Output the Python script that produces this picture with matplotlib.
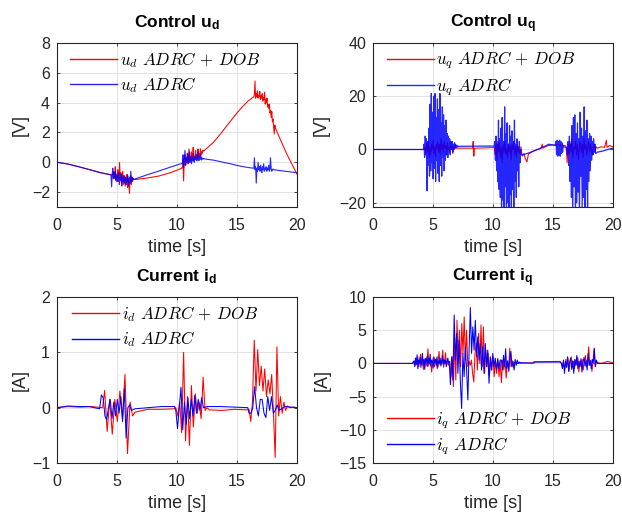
import numpy as np
import matplotlib
matplotlib.use("Agg")
import matplotlib.pyplot as plt
from matplotlib.font_manager import FontProperties

plt.rcParams['font.family'] = ['Liberation Sans', 'DejaVu Sans']
plt.rcParams['mathtext.fontset'] = 'custom'
plt.rcParams['mathtext.rm'] = 'Liberation Sans:bold'
plt.rcParams['mathtext.it'] = 'Liberation Sans:bold'
plt.rcParams['mathtext.bf'] = 'Liberation Sans:bold'

# Each series is a list of segments (t_start, t_end, samples); samples are
# evenly spaced over their segment.
ud_dob = [
    (0.0, 4.6, [0.0, -0.12, -0.3, -0.5, -0.7, -0.85]),
    (4.65, 6.4, [-0.8, -0.6, -1.1, -0.9, -0.3, -1.2, -0.8, -1.0, -0.5, -1.3, -0.9, 0.0,
                 -1.1, -0.7, -1.4, -1.0, -0.6, -1.5, -1.2, -0.9, -1.6, -1.0, -1.3, -0.8,
                 -1.7, -1.1, -1.4, -2.1, -1.2, -0.9, -1.5, -1.0, -1.3, -1.1, -1.15]),
    (6.6, 10.4, [-1.15, -1.05, -0.92, -0.7, -0.4]),
    (10.45, 12.2, [-0.3, 0.2, -1.25, 0.1, 0.5, -0.2, 0.3, 0.0, 0.6, -0.1, 0.4, 0.9, 0.0,
                   0.3, 0.1, 0.7, 0.2, 0.5, 1.0, 0.1, 0.4, 0.2, 0.8, 0.3, 0.5, 0.2, 0.9,
                   0.4, 0.6, 0.3, 0.9, 0.5, 0.7, 0.6, 0.8, 0.75]),
    (12.5, 16.4, [0.95, 1.3, 1.75, 2.25, 2.75, 3.25, 3.7, 4.1, 4.4]),
    (16.45, 18.25, [4.5, 5.45, 4.3, 4.6, 4.4, 4.8, 4.3, 4.5, 4.4, 4.75, 4.2, 4.45, 4.3,
                    4.6, 4.1, 4.35, 4.2, 4.7, 3.9, 4.2, 4.0, 4.3, 3.7, 3.9, 3.6, 3.9, 3.3,
                    3.5, 3.0, 3.4, 2.7, 2.9, 2.4, 1.9, 2.5, 2.3, 2.2]),
    (18.3, 20.0, [2.1, 0.55, -0.8]),
]
ud_adrc = [
    (0.0, 4.5, [0.0, -0.12, -0.3, -0.5, -0.7, -0.85]),
    (4.55, 6.4, [-1.65, -0.8, -0.4, -1.1, -0.7, -1.0, -0.6, -1.2, -0.9, -1.3, -0.8, -1.1,
                 -0.7, -1.5, -1.0, -1.2, -0.8, -1.6, -1.0, -1.3, -0.9, -1.2, -1.4, -1.0,
                 -1.5, -1.1, -1.3, -0.9, -1.6, -1.2, -1.0, -1.4, -0.6, -1.3, -1.0, -1.2,
                 -1.1, -1.15]),
    (6.5, 10.4, [-1.12, -0.85, -0.6, -0.33, -0.08]),
    (10.45, 12.2, [-0.1, 0.5, -0.4, 0.2, 0.8, -0.2, 0.3, 0.0, 0.6, -0.1, 0.2, 0.7, 0.0,
                   0.4, -0.1, 0.3, 0.1, 0.6, 0.0, 0.3, 0.2, 0.5, 0.1, 0.3, 0.7, 0.1, 0.4,
                   0.2, 0.5, 0.15, 0.3, 0.2, 0.25]),
    (12.5, 16.4, [0.2, 0.15, 0.07, -0.02, -0.1, -0.2, -0.28, -0.35, -0.4]),
    (16.45, 18.1, [0.3, -0.5, -0.3, -1.4, -0.4, -0.6, 0.0, -0.5, -0.3, -0.6, -0.2, -0.5,
                   -0.7, -0.3, -0.5, -0.1, -0.6, -0.4, -0.5, -0.3, -0.6, -0.4, -0.5, -0.2,
                   -0.6, -0.5, 0.3, -0.4, -0.6, -0.5, -0.45, -0.5, -0.5]),
    (18.5, 20.0, [-0.55, -0.6, -0.65, -0.7]),
]

uq_dob = [
    (0.0, 4.3, [0.0, 0.0]),
    (4.35, 7.05, [1, -2, 2.5, -1, 3, -3, 1, -2, 2, 0, 3.5, -1.5, 1, -2.5, 2, 0.5, 3, -1,
                  2, -2, 4, 0, 2, -1, 3, 0.5, 1.5, -2, 2.5, 0, 1, -1, 3, 0.5, 1.5, -1.5,
                  1, 0.5, 2, 0.3, 0.8, 0.5]),
    (7.1, 8.3, [0.5, 0.5]),
    (8.35, 8.45, [3.0, -2.5, 0.5]),
    (8.5, 10.0, [0.5, 0.7]),
    (10.1, 12.4, [1, -2, 2, -4, 3, -1, 2.5, -3, 1, -5, 2, -1, 3, -2, 0.5, -3, 2, -1, 1.5,
                  -4, 2, 0, 3, -2, 1, -3, 2, -1, 0.5, -2, 1, -1.5]),
    (12.45, 12.95, [-2.5, -1.5, -3.5, -4.7, -1.8]),
    (13.2, 14.0, [-1.0, -0.2, 0.4]),
    (14.1, 14.15, [2.0, 0.5]),
    (14.6, 16.0, [1.5, 1.8, 1.5]),
    (16.1, 18.6, [1, -5, 2, -2, 3, -1, 4, -3, 1, 0, 3, -2, 2, -4, 1, 3, -1, 2, -3, 4, 0,
                  2, -2, 1, 3, -1, 2, 0, -2, 1, 2, -1, 1]),
    (18.7, 19.3, [0.5, 1.0, 0.8]),
    (19.45, 19.5, [3.5, 0.8]),
    (19.7, 20.0, [1.5, 1.0]),
]
uq_adrc = [
    (0.0, 4.2, [0.0, 0.0]),
    (4.25, 7.05, [2, -3, 5, -2, 4, -15.5, 3, -6, 8, -10, 17, -8, 21, -5, 14, -11, 20, -7,
                  21, -12, 12, -4, 19, -9, 15, -12, 21, -6, 10, -10, 16, -3, 13, -8, 9,
                  -4, 11, -2, 6, -3, 5, -1, 4, -2, 3, 0, 3, -1, 2, 0, 2.5, 0.5, 1.8, 1,
                  1.5, 1.2]),
    (7.1, 10.1, [1.2, 1.3]),
    (10.15, 12.35, [3, -4, 5, -8, 2, -12, 11, -15, 4, -18, 8, -24, 12, -19, 3, -24, 16,
                    -14, 6, -24, 10, -20, 2, -24, 9, -17, 5, -24, 7, -15, 3, -24, 11,
                    -12, 2, -18, 4, -8, 1, -14, 3, -5, 0, -2]),
    (12.5, 15.2, [-2.0, -1.2, -0.2, 0.8, 2.0, 1.5]),
    (15.25, 15.85, [3, -2, 3.5, -2.5, 3, -2, 3.5, -2.5, 3, -1.5, 2.5, -1, 1.5]),
    (15.9, 16.1, [1.0, 0.8]),
    (16.2, 18.55, [-2, 3, -6, 5, -12, 2, -18, 9, -24, 12, -14, 13, -24, 6, -20, 10, -16,
                   4, -24, 14, -10, 8, -22, 5, -18, 16, -24, 7, -15, 11, -24, 4, -12, 6,
                   -8, 5, -4, 3, -2, 4, -1, 2, -1.5]),
    (18.7, 20.0, [-1.0, -0.6, 0.0, 0.5]),
]

id_dob = [
    (0.0, 3.8, [0.0, 0.02, 0.01, 0.02, 0.0]),
    (3.97, 6.3, [0.31, -0.43, 0.15, -0.48, 0.15, -0.25, 0.3, -0.2, 0.6, -0.83, 0.1,
                 -0.15]),
    (6.5, 9.8, [-0.08, -0.03, -0.03, -0.02]),
    (9.9, 12.5, [0.0, -0.15, 0.1, -0.45, 1.0, -0.6, 0.2, -0.68, 0.4, -0.35, 0.25, -0.1,
                 0.1, -0.2, 0.55, -0.05, 0.0]),
    (12.7, 15.8, [-0.04, -0.05, -0.03, -0.04]),
    (16.0, 19.2, [-0.03, -0.25, 0.1, 1.22, 0.3, 1.05, 0.4, 0.75, 0.3, 0.7, 0.2, 0.5,
                  0.25, 0.6, -0.1, -0.9, 1.1, -0.15, 0.2, -0.1, 0.1, -0.05, 0.03]),
    (19.4, 20.0, [0.0, 0.01, 0.0]),
]
id_adrc = [
    (0.0, 3.55, [0.0, 0.03, 0.02, 0.02, -0.02]),
    (3.7, 6.2, [0.23, 0.18, -0.15, -0.22, 0.0, 0.15, -0.2, 0.1, -0.15, 0.15, -0.1, 0.2,
                -0.25, 0.35, -0.55, 0.0, 0.05, -0.05]),
    (6.5, 9.8, [-0.02, 0.0, 0.02, 0.02]),
    (9.9, 12.2, [-0.05, -0.38, 0.0, 0.37, -0.4, 0.1, -0.3, 0.18, -0.2, 0.15, -0.15, 0.22,
                 -0.1, 0.15, -0.05, 0.18, 0.0]),
    (12.5, 15.9, [0.02, 0.02, 0.01, 0.0]),
    (16.0, 18.5, [-0.1, -0.1, 0.0, 0.38, 0.0, -0.15, 0.15, 0.15, -0.1, -0.18, 0.2, -0.05,
                  0.2, -0.1, -0.05, 0.05, -0.05]),
    (19.0, 20.0, [0.02, 0.0]),
]

iq_dob = [
    (0.0, 3.3, [0.0, 0.0]),
    (3.35, 6.35, [0.2, 0.4, -0.3, 0.6, 0.0, 1.0, -0.5, 0.3, 1.4, -0.2, 0.5, -0.9, 0.2,
                  0.8, -0.4, 0.3, 2.2, -0.3, 0.6, 0.0, -1.3, 0.4, 1.0, -0.5, 0.2, 0.7,
                  -0.8, 0.3, 1.8, -0.2, 0.5, 0.0, 2.0, -0.6, 0.4, 1.6, 0.0, 0.3, -0.3,
                  0.2]),
    (6.4, 11.8, [0.3, -2.0, 1.0, -3.5, 4.0, -2.5, 6.5, 0.5, 5.0, -0.5, 6.0, 1.5, 7.0, 0.5,
                 5.0, -0.5, 0.3, -0.3, 0.5, -1.5, -2.8, 1.5, 3.0, -1.0, 4.5, 0.0, 5.8,
                 -0.5, 5.5, -1.5, 2.0, -0.5, 1.5, -1.8, 0.8, -1.0, 1.0, -2.0, 0.5, -1.5,
                 0.8, -2.0, 0.3, -2.9, 0.5, -1.0, 0.6, -2.2, 0.3, -0.8, 2.3, -0.5, 0.4,
                 -0.6, 0.2]),
    (12.0, 13.3, [0.0, 0.05, 0.05]),
    (13.4, 15.6, [0.25, 0.3]),
    (15.7, 18.7, [0.0, -0.5, 0.3, -1.0, 0.6, -0.3, 0.8, -1.2, 0.2, 1.0, -0.6, 0.3, -0.8,
                  0.5, -0.2, 0.9, -1.3, 0.4, -0.4, 0.6, -1.0, 0.3, 1.2, -0.5, 0.2, 2.5,
                  -0.3, 0.5, -1.2, 0.4, 2.3, -0.4, 0.3, 0.1]),
    (19.0, 20.0, [0.0, 0.1, 0.3, 0.2, 0.1]),
]
iq_adrc = [
    (0.0, 3.3, [0.0, 0.0]),
    (3.35, 6.3, [0.2, 0.3, -0.5, 0.8, -0.2, 1.3, -0.8, 0.5, 0.0, 0.9, -0.6, 0.4, 1.5,
                 -0.3, 0.6, -0.9, 0.7, 0.2, 1.0, -0.5, 0.8, 0.0, 1.4, -0.4, 0.5, 0.2,
                 -0.7, 0.9, 0.1, 0.6, -0.3, 1.0, -0.6, 0.4, 0.0, 0.8, -0.4, 0.3, 1.2,
                 -0.2, 0.6, 0.0, 0.5, -0.5, 0.3, 0.8, 0.1]),
    (6.35, 10.6, [0.3, -3.2, 1.0, -2.5, 7.3, 0.5, 4.5, -1.5, 3.5, -3.0, -6.8, 1.5, -2.0,
                  2.5, -1.0, -5.5, 2.0, 8.4, 1.5, 5.5, 2.0, 6.5, 1.0, 4.0, 0.5, 3.0,
                  -1.0, 2.5, -1.5, 3.0, -0.5, 2.0, -3.0, 1.0, -1.0, 1.5, -0.5, 0.8,
                  -1.0, 0.6, -0.8, 0.5]),
    (10.7, 12.2, [0.5, -1.0, 1.2, -0.5, 2.2, -0.8, 0.4, -1.2, 0.8, 1.8, -0.5, 0.3, -1.0,
                  0.6, -0.3, 0.5, 0.0, 0.2]),
    (12.3, 13.4, [0.1, 0.05]),
    (13.5, 15.6, [0.2, 0.2]),
    (15.7, 18.7, [0.0, -0.8, 0.5, -1.5, 0.3, -0.6, 1.0, -1.2, 0.2, 0.8, -0.9, 0.4, -1.5,
                  0.6, -0.3, 1.2, -0.8, 0.3, -0.5, 0.7, -1.3, 0.2, 0.9, -0.4, 0.5, -1.0,
                  1.5, -0.3, 0.4, -0.8, 0.6, 0.0, 2.2, -0.5, 0.5, 0.0]),
    (18.8, 20.0, [0.0, 0.0]),
]

titles = [r'Control $\mathbf{u_d}$', r'Control $\mathbf{u_q}$',
          r'Current $\mathbf{i_d}$', r'Current $\mathbf{i_q}$']
ylabels = ['[V]', '[V]', '[A]', '[A]']
labels = [(r'$u_d\ ADRC\,+\,DOB$', r'$u_d\ ADRC$'),
          (r'$u_q\ ADRC\,+\,DOB$', r'$u_q\ ADRC$'),
          (r'$i_d\ ADRC\,+\,DOB$', r'$i_d\ ADRC$'),
          (r'$i_q\ ADRC\,+\,DOB$', r'$i_q\ ADRC$')]
ylims = [(-3, 8), (-21.6, 40), (-1, 2), (-15, 10)]
yticks = [[-2, 0, 2, 4, 6, 8], [-20, 0, 20, 40], [-1, 0, 1, 2],
          [-15, -10, -5, 0, 5, 10]]
xticks = [0, 5, 10, 15, 20]


def build(segments):
    ts, vs = [], []
    for t0, t1, vals in segments:
        ts.append(np.linspace(t0, t1, len(vals)))
        vs.append(np.asarray(vals, dtype=float))
    return np.concatenate(ts), np.concatenate(vs)


W, H = 622, 515
fig = plt.figure(figsize=(W / 100, H / 100), dpi=100)
boxes = [(57, 43, 240, 164), (373, 43, 240, 164),
         (57, 297, 240, 166), (373, 297, 240, 166)]
series = [(ud_dob, ud_adrc), (uq_dob, uq_adrc), (id_dob, id_adrc), (iq_dob, iq_adrc)]
leg_anchor = [(0.054, 0.955), (0.058, 0.955), (0.063, 0.955), (0.058, 0.32)]
ylabel_x = [-0.117, -0.179, -0.117, -0.175]
blue_alpha = [0.85, 0.85, 1.0, 1.0]
blue_width = [0.8, 0.9, 0.75, 0.75]

axc = '#262626'
for k in range(4):
    x, y, w, h = boxes[k]
    ax = fig.add_axes([x / W, 1 - (y + h) / H, w / W, h / H])
    t1, v1 = build(series[k][0])
    t2, v2 = build(series[k][1])
    ax.plot(t1, v1, color=(1, 0, 0), lw=0.75, label=labels[k][0])
    ax.plot(t2, v2, color=(0, 0, 1), lw=blue_width[k], alpha=blue_alpha[k],
            label=labels[k][1])
    ax.set_xlim(0, 20)
    ax.set_ylim(*ylims[k])
    ax.set_xticks(xticks)
    ax.set_yticks(yticks[k])
    ax.grid(True, color='#e3e3e3', lw=0.7)
    ax.set_axisbelow(True)
    for s in ax.spines.values():
        s.set_color(axc)
        s.set_linewidth(0.8)
    ax.tick_params(direction='in', length=2.5, width=0.6, colors=axc,
                   labelsize=11.5, top=True, right=True)
    ax.tick_params(axis='x', pad=8)
    ax.tick_params(axis='y', pad=5)
    ax.set_xlabel('time [s]', fontsize=13, color=axc, labelpad=4)
    ax.set_ylabel(ylabels[k], fontsize=13, color=axc)
    ax.yaxis.set_label_coords(ylabel_x[k], 0.5)
    ax.set_title(titles[k], fontsize=12.5, fontweight='bold', pad=11)
    prop = FontProperties(size=12.3, math_fontfamily='cm')
    leg = ax.legend(loc='upper left', bbox_to_anchor=leg_anchor[k], frameon=False,
                    prop=prop, borderpad=0, borderaxespad=0, handlelength=2.75,
                    handletextpad=0.15, labelspacing=0.3)
    for ln in leg.get_lines():
        ln.set_linewidth(1.0)

fig.savefig('out.png', dpi=100)
